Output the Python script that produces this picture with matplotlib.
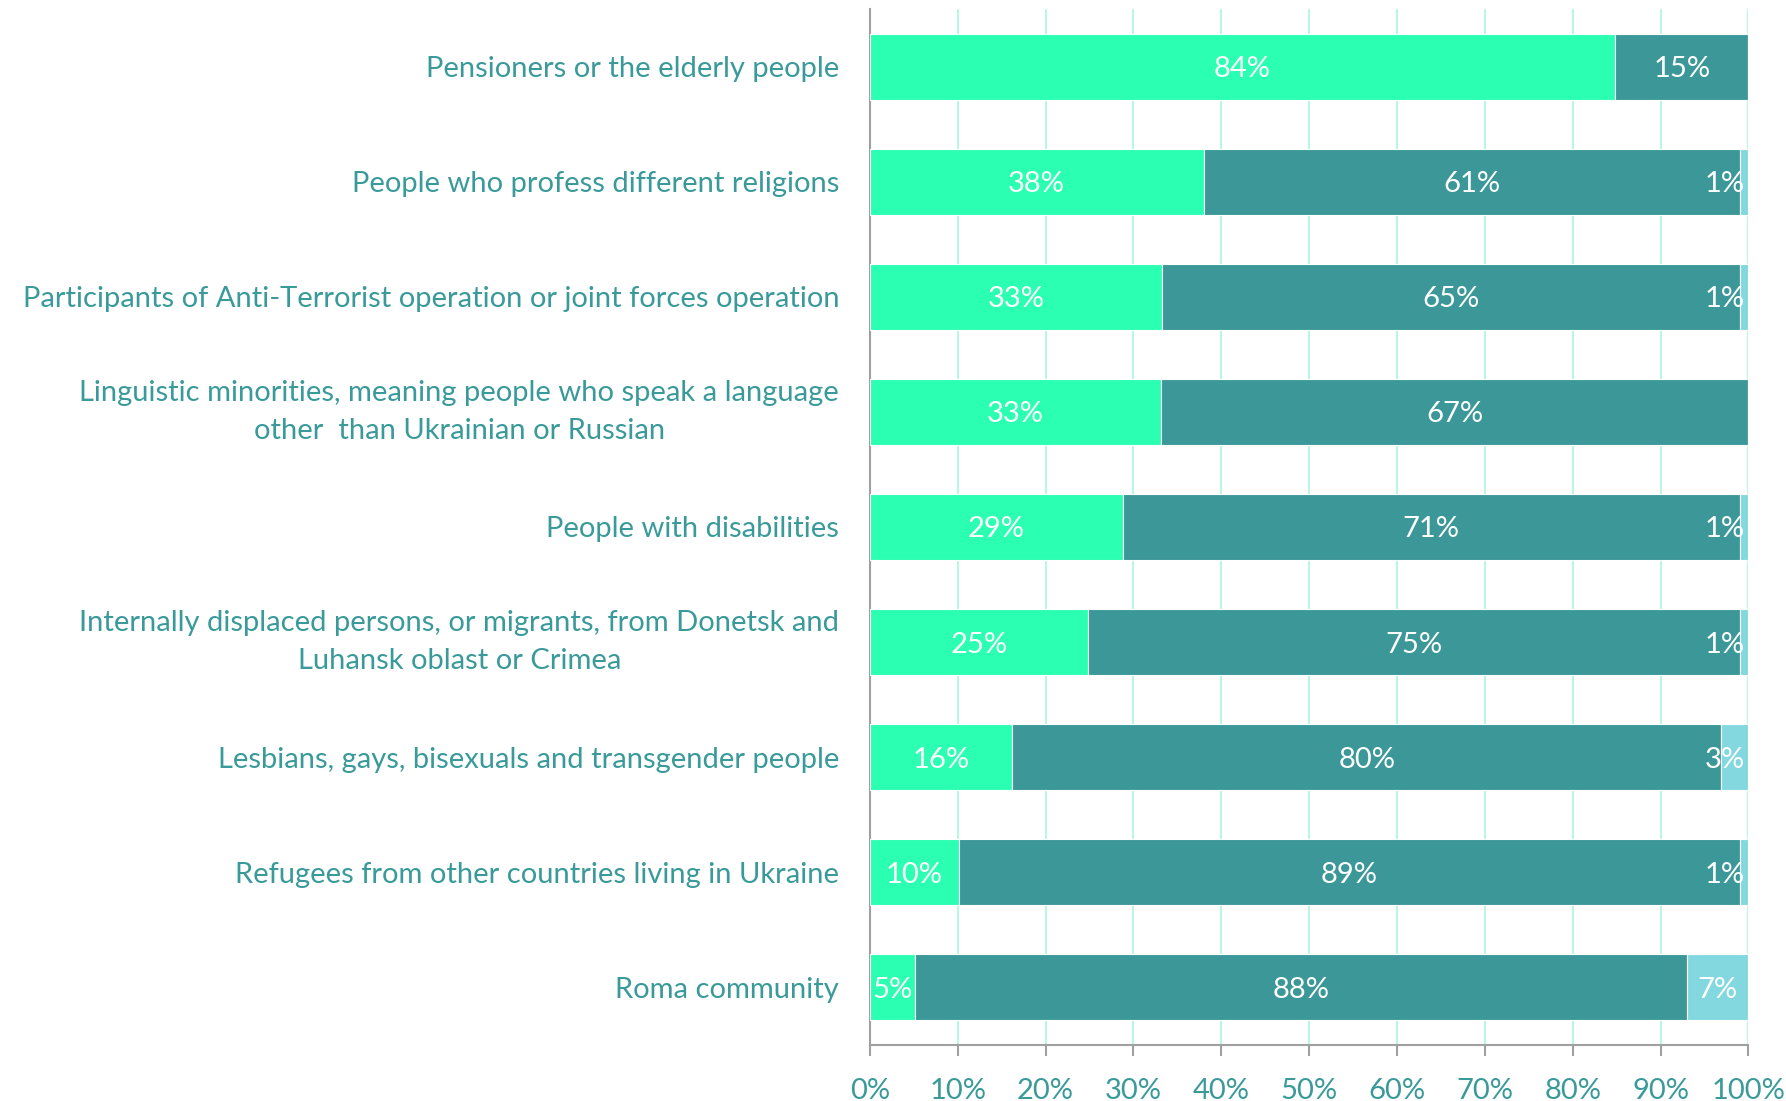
import numpy as np
import matplotlib.pyplot as plt
from matplotlib.ticker import PercentFormatter

# categories, top to bottom
categories = [
    "Pensioners or the elderly people",
    "People who profess different religions",
    "Participants of Anti-Terrorist operation or joint forces operation",
    "Linguistic minorities, meaning people who speak a language\nother  than Ukrainian or Russian",
    "People with disabilities",
    "Internally displaced persons, or migrants, from Donetsk and\nLuhansk oblast or Crimea",
    "Lesbians, gays, bisexuals and transgender people",
    "Refugees from other countries living in Ukraine",
    "Roma community",
]

# segment widths (percent)
seg1 = [84.8, 38.0, 33.3, 33.1, 28.8, 24.8, 16.2, 10.1, 5.1]
seg2 = [15.2, 61.0, 65.7, 66.9, 70.2, 74.2, 80.7, 88.9, 87.9]
seg3 = [0.0, 1.0, 1.0, 0.0, 1.0, 1.0, 3.1, 1.0, 7.0]

# printed labels
lab1 = ["84%", "38%", "33%", "33%", "29%", "25%", "16%", "10%", "5%"]
lab2 = ["15%", "61%", "65%", "67%", "71%", "75%", "80%", "89%", "88%"]
lab3 = ["", "1%", "1%", "", "1%", "1%", "3%", "1%", "7%"]

GREEN = "#2AFFB2"
TEAL = "#3C9898"
LIGHT = "#83D8E0"
TXT = "#3A9A9A"
FONT = "Lato"


def run():
    plt.rcParams['font.family'] = [FONT, 'DejaVu Sans']
    fig = plt.figure(figsize=(17.86, 11.01), dpi=100)
    ax = fig.add_axes([0.487, 0.0509, 0.979 - 0.487, 0.9918 - 0.0509])

    y = np.arange(len(categories))
    s1 = np.array(seg1)
    s2 = np.array(seg2)
    s3 = np.array(seg3)
    h = 0.574
    ax.barh(y, s1, height=h, color=GREEN, edgecolor="white", linewidth=0.8, zorder=3)
    ax.barh(y, s2, left=s1, height=h, color=TEAL, edgecolor="white", linewidth=0.8, zorder=3)
    ax.barh(y, s3, left=s1 + s2, height=h, color=LIGHT, edgecolor="white", linewidth=0.8, zorder=3)

    fs = 21
    kw = dict(va="center_baseline", color="white", fontsize=fs, zorder=4)
    for i in range(len(categories)):
        ax.text(s1[i] / 2, y[i], lab1[i], ha="center", **kw)
        ax.text(s1[i] + s2[i] / 2, y[i], lab2[i], ha="center", **kw)
        if lab3[i]:
            if s3[i] < 5:
                ax.text(99.6, y[i], lab3[i], ha="right", **kw)
            else:
                ax.text(s1[i] + s2[i] + s3[i] / 2, y[i], lab3[i], ha="center", **kw)

    ax.set_xlim(0, 100)
    ax.set_ylim(len(categories) - 0.5, -0.5)
    ax.set_xticks(np.arange(0, 101, 10))
    ax.xaxis.set_major_formatter(PercentFormatter(decimals=0))
    ax.set_yticks(y)
    ax.set_yticklabels(categories)
    for lbl in ax.get_yticklabels():
        lbl.set_multialignment("center")
        lbl.set_linespacing(1.55)
        if "\n" in lbl.get_text():
            lbl.set_va("center")

    ax.grid(axis="x", color="#A8F7DA", linewidth=1.2, zorder=0)
    ax.set_axisbelow(True)
    for side in ["top", "right"]:
        ax.spines[side].set_visible(False)
    for side in ["left", "bottom"]:
        ax.spines[side].set_color("#A0A0A0")
        ax.spines[side].set_linewidth(1.5)
    ax.tick_params(axis="x", colors="#A0A0A0", length=8, width=1.5, pad=16,
                   labelcolor=TXT, labelsize=fs)
    ax.tick_params(axis="y", length=0, pad=22, labelcolor=TXT, labelsize=fs)

    fig.savefig("out.png", dpi=100)


if __name__ == "__main__":
    run()
